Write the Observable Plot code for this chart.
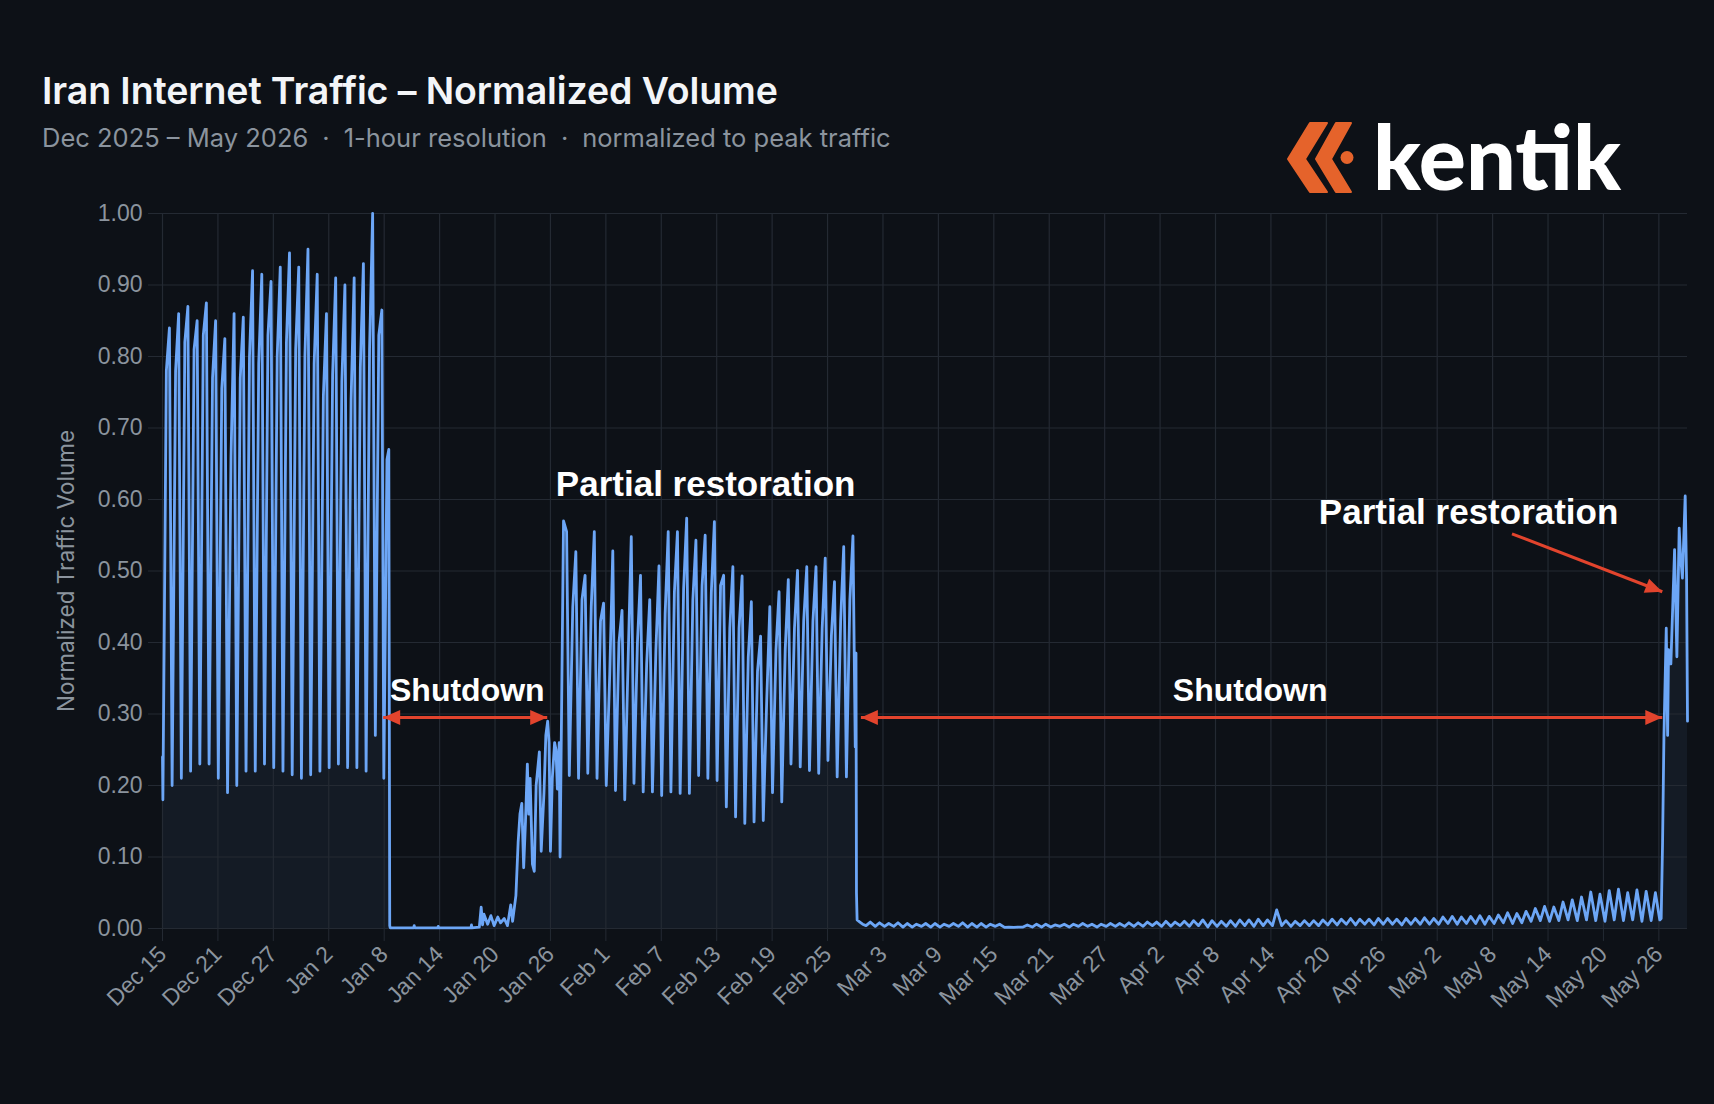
<!DOCTYPE html>
<html>
<head>
<meta charset="utf-8">
<script src="https://cdn.jsdelivr.net/npm/d3@7"></script>
<script src="https://cdn.jsdelivr.net/npm/@observablehq/plot@0.6"></script>
<style>
  html, body { margin: 0; padding: 0; background: #0d1117; }
  #page { position: relative; width: 1714px; height: 1104px; overflow: hidden; background: #0d1117; }
  #title { position: absolute; left: 42px; top: 68px; font-family: Inter, "Noto Sans", sans-serif; font-size: 37.5px; font-weight: 600; color: #f3f5f8; letter-spacing: -0.1px; white-space: nowrap; }
  #subtitle { position: absolute; left: 42px; top: 122px; font-family: Inter, "Noto Sans", sans-serif; font-size: 25.5px; color: #8b949e; white-space: nowrap; }
  #subtitle .sep { margin: 0 14px; }
  #logo { position: absolute; left: 1280px; top: 78px; overflow: visible; }
  #chart { position: absolute; left: 0; top: 160px; }
</style>
</head>
<body>
<div id="page">
  <div id="title">Iran Internet Traffic – Normalized Volume</div>
  <div id="subtitle">Dec 2025 – May 2026<span class="sep">·</span>1-hour resolution<span class="sep">·</span>normalized to peak traffic</div>
  <svg id="logo" width="420" height="150" viewBox="0 0 420 150">
    <g fill="#e5632b">
      <polygon points="8,81 30,45 47,45 25,81 47,114 30,114" stroke="#e5632b" stroke-width="2" stroke-linejoin="round"/>
      <polygon points="36,81 56,45 71,45 51,81 71,114 56,114" stroke="#e5632b" stroke-width="2" stroke-linejoin="round"/>
      <circle cx="67" cy="79.5" r="6.5"/>
    </g>
    <text x="93" y="112" font-family="Lato, 'Open Sans', sans-serif" font-weight="900" font-size="90" fill="#ffffff" textLength="248" lengthAdjust="spacingAndGlyphs">kentik</text>
  </svg>
  <div id="chart"></div>
</div>
<script>
// Day 0 is 2025-12-15 00:00 UTC; hourly samples are summarised below by
// their daily low, midday shoulder and evening peak.
const startDate = "2025-12-15T00:00Z";

// Dec 15 – Jan 7: normal traffic, one value per day
const preTrough = [0.18, 0.20, 0.21, 0.22, 0.23, 0.23, 0.21, 0.19, 0.20, 0.22, 0.22, 0.23,
                   0.225, 0.22, 0.215, 0.21, 0.215, 0.22, 0.225, 0.23, 0.225, 0.225, 0.22, 0.27];
const preMid    = [0.78, 0.78, 0.82, 0.81, 0.83, 0.77, 0.755, 0.66, 0.77, 0.80, 0.79, 0.83,
                   0.80, 0.82, 0.81, 0.80, 0.79, 0.745, 0.775, 0.765, 0.74, 0.785, 0.81, 0.83];
const prePeak   = [0.84, 0.86, 0.87, 0.85, 0.875, 0.85, 0.825, 0.86, 0.855, 0.92, 0.915, 0.905,
                   0.925, 0.945, 0.925, 0.95, 0.915, 0.86, 0.91, 0.90, 0.91, 0.93, 1.00, 0.865];

// Jan 8 cutoff and the January shutdown / first recovery: [day, value]
const janShutdown = [
  [23.96, 0.21], [24.3, 0.656], [24.5, 0.67], [24.6, 0.004], [24.65, 0.001],
  [27.2, 0.001], [27.25, 0.004], [27.3, 0.001], [29.8, 0.001], [29.85, 0.003], [29.9, 0.001],
  [33.4, 0.001], [33.45, 0.005], [33.5, 0.001], [34.3, 0.002], [34.5, 0.03], [34.65, 0.005],
  [34.8, 0.02], [35.2, 0.006], [35.55, 0.018], [35.9, 0.004], [36.3, 0.016], [36.6, 0.008],
  [37.0, 0.014], [37.35, 0.004], [37.7, 0.033], [37.9, 0.01], [38.26, 0.046], [38.5, 0.12],
  [38.7, 0.16], [38.9, 0.175], [39.1, 0.085], [39.3, 0.15], [39.5, 0.23], [39.65, 0.16],
  [39.8, 0.21], [40.05, 0.09], [40.25, 0.08], [40.45, 0.2], [40.8, 0.247], [41.0, 0.108],
  [41.3, 0.19], [41.5, 0.27], [41.7, 0.29], [41.85, 0.26], [42.0, 0.108], [42.2, 0.21],
  [42.45, 0.26], [42.6, 0.25], [42.75, 0.195], [42.95, 0.26]
];

// Jan 27 – Feb 27: partial restoration, one value per day
const postTrough = [0.10, 0.214, 0.21, 0.217, 0.21, 0.20, 0.193, 0.18, 0.203, 0.191, 0.191, 0.186,
                    0.191, 0.189, 0.189, 0.214, 0.21, 0.207, 0.17, 0.156, 0.147, 0.149, 0.151, 0.19,
                    0.177, 0.23, 0.226, 0.221, 0.217, 0.235, 0.212, 0.212];
const postMid    = [0.57, 0.45, 0.46, 0.45, 0.43, 0.355, 0.40, 0.38, 0.40, 0.37, 0.39, 0.44,
                    0.47, 0.475, 0.46, 0.48, 0.47, 0.48, 0.42, 0.42, 0.38, 0.36, 0.32, 0.39,
                    0.39, 0.42, 0.43, 0.43, 0.42, 0.41, 0.43, 0.46];
const postPeak   = [0.555, 0.527, 0.494, 0.555, 0.455, 0.528, 0.445, 0.548, 0.494, 0.46, 0.507, 0.555,
                    0.555, 0.574, 0.543, 0.55, 0.569, 0.494, 0.506, 0.493, 0.457, 0.409, 0.45, 0.471,
                    0.488, 0.501, 0.506, 0.506, 0.518, 0.485, 0.534, 0.549];

// Feb 28 cutoff: [day, value]
const febCutoff = [[75.0, 0.254], [75.08, 0.385], [75.13, 0.05], [75.2, 0.012], [75.5, 0.009], [75.8, 0.006]];

// Mar 1 – May 25: second shutdown, daily low and high
const lowTrough = [0.004, 0.003, 0.003, 0.003, 0.002, 0.002, 0.003, 0.002, 0.002, 0.003, 0.003, 0.002, 0.002, 0.002,
                   0.003, 0.0015, 0.0015,
                   0.002, 0.002, 0.002, 0.002, 0.003, 0.002, 0.003, 0.003, 0.002, 0.003, 0.003, 0.003,
                   0.003, 0.003, 0.004, 0.003, 0.003, 0.004, 0.003, 0.004,
                   0.002, 0.003, 0.003, 0.003, 0.004, 0.003, 0.004,
                   0.004,
                   0.004, 0.003, 0.004, 0.004, 0.004,
                   0.005, 0.005, 0.006, 0.005, 0.006, 0.005, 0.006, 0.006, 0.005, 0.006, 0.006, 0.006,
                   0.006, 0.007, 0.006, 0.007, 0.007, 0.006, 0.007,
                   0.008, 0.007, 0.008,
                   0.010, 0.011, 0.010,
                   0.011, 0.012, 0.011,
                   0.012, 0.011, 0.010, 0.012, 0.011, 0.012, 0.010, 0.011];
const lowPeak   = [0.009, 0.008, 0.007, 0.008, 0.007, 0.006, 0.007, 0.007, 0.006, 0.007, 0.008, 0.007, 0.007, 0.006,
                   0.006, 0.002, 0.002,
                   0.005, 0.006, 0.006, 0.005, 0.006, 0.006, 0.007, 0.006, 0.006, 0.007, 0.007, 0.008,
                   0.008, 0.009, 0.009, 0.010, 0.009, 0.010, 0.011, 0.012,
                   0.011, 0.010, 0.011, 0.012, 0.012, 0.013, 0.012,
                   0.026,
                   0.011, 0.010, 0.011, 0.011, 0.012,
                   0.013, 0.013, 0.014, 0.013, 0.013, 0.014, 0.014, 0.013, 0.014, 0.014, 0.015, 0.014,
                   0.016, 0.017, 0.016, 0.017, 0.018, 0.017, 0.019,
                   0.022, 0.021, 0.024,
                   0.028, 0.031, 0.030,
                   0.037, 0.040, 0.044,
                   0.051, 0.048, 0.053, 0.055, 0.050, 0.054, 0.052, 0.050];

// May 26 onward: second partial restoration, [day, value]
const mayRestoration = [
  [162.1, 0.012], [162.25, 0.014], [162.4, 0.12], [162.55, 0.27], [162.8, 0.42], [162.95, 0.27],
  [163.05, 0.39], [163.3, 0.37], [163.5, 0.45], [163.7, 0.53], [163.95, 0.38], [164.2, 0.56],
  [164.35, 0.52], [164.55, 0.49], [164.85, 0.605], [165.0, 0.49], [165.1, 0.29]
];

// Axis ticks
const yTicks = [0, 0.1, 0.2, 0.3, 0.4, 0.5, 0.6, 0.7, 0.8, 0.9, 1.0];
const xTickDays = ["2025-12-15", "2025-12-21", "2025-12-27", "2026-01-02", "2026-01-08", "2026-01-14",
                   "2026-01-20", "2026-01-26", "2026-02-01", "2026-02-07", "2026-02-13", "2026-02-19",
                   "2026-02-25", "2026-03-03", "2026-03-09", "2026-03-15", "2026-03-21", "2026-03-27",
                   "2026-04-02", "2026-04-08", "2026-04-14", "2026-04-20", "2026-04-26", "2026-05-02",
                   "2026-05-08", "2026-05-14", "2026-05-20", "2026-05-26"];

// Annotations, in data coordinates (day, value)
const shutdownLabels = [{day: 33.0, v: 0.333, text: "Shutdown"}, {day: 117.75, v: 0.333, text: "Shutdown"}];
const restorationLabels = [{day: 58.8, v: 0.621, text: "Partial restoration"}, {day: 141.4, v: 0.582, text: "Partial restoration"}];
const spanArrows = [{from: 23.89, to: 41.65, v: 0.295}, {from: 75.61, to: 162.37, v: 0.295}];
const pointerArrow = {day1: 146.1, v1: 0.552, day2: 162.37, v2: 0.471};

// ---- build the series -------------------------------------------------
const day0 = new Date(startDate).getTime();
const when = (day) => new Date(day0 + day * 864e5);
const series = [];
const add = (day, v) => series.push({t: when(day), v});

add(0, 0.24);
preTrough.forEach((_, i) => {
  add(i + 1 / 24, preTrough[i]);
  add(i + 10 / 24, preMid[i]);
  add(i + 18 / 24, prePeak[i]);
});
janShutdown.forEach(([d, v]) => add(d, v));
postTrough.forEach((_, i) => {
  const d = 43 + i;
  add(d + 1 / 24, postTrough[i]);
  add(d + 10 / 24, postMid[i]);
  add(d + 18 / 24, postPeak[i]);
});
febCutoff.forEach(([d, v]) => add(d, v));
lowTrough.forEach((_, i) => {
  const d = 76 + i;
  add(d + 4 / 24, lowTrough[i]);
  add(d + 15 / 24, lowPeak[i]);
});
mayRestoration.forEach(([d, v]) => add(d, v));

const xTicks = xTickDays.map((s) => new Date(s + "T00:00Z"));

// ---- styling ----------------------------------------------------------
const gridColor = "#242a33";
const axisText = "#8b949e";
const lineColor = "#6ca6f6";
const areaColor = "#141b25";
const red = "#e2442d";
const annotFont = "'Liberation Sans', Arial, Helvetica, sans-serif";

// filled arrowhead with its tip at the origin, pointing right
const arrowHead = {
  draw(context) {
    context.moveTo(0, 0);
    context.lineTo(-17, -7.5);
    context.lineTo(-17, 7.5);
    context.closePath();
  }
};

const heads = spanArrows.flatMap((a) => [
  {t: when(a.from), v: a.v, rot: 180},
  {t: when(a.to), v: a.v, rot: 0}
]);

const chart = Plot.plot({
  width: 1714,
  height: 880,
  marginTop: 53,
  marginLeft: 162,
  marginRight: 27,
  marginBottom: 112,
  style: {background: "transparent", color: axisText, fontFamily: "'Liberation Sans', Arial, sans-serif", fontSize: "23px", overflow: "visible"},
  x: {type: "utc", domain: [when(0), when(165.1)]},
  y: {domain: [0, 1]},
  marks: [
    Plot.areaY(series, {x: "t", y: "v", fill: areaColor}),
    Plot.gridY(yTicks, {stroke: gridColor, strokeOpacity: 1, strokeWidth: 1.2}),
    Plot.gridX(xTicks, {stroke: gridColor, strokeOpacity: 1, strokeWidth: 1.2}),
    Plot.axisY({ticks: yTicks, tickFormat: d3.format(".2f"), tickSize: 14, tickPadding: 6,
                stroke: gridColor, fill: axisText, fontSize: 23, label: null}),
    Plot.axisX({ticks: xTicks, tickFormat: d3.utcFormat("%b %-d"), tickRotate: -45, tickSize: 13, tickPadding: 9,
                stroke: gridColor, fill: axisText, fontSize: 23, label: null}),
    Plot.text(["Normalized Traffic Volume"], {frameAnchor: "left", textAnchor: "middle", rotate: -90, dx: -96,
                fill: axisText, fontSize: 22.5, fontFamily: "Inter, 'Noto Sans', sans-serif"}),
    Plot.lineY(series, {x: "t", y: "v", stroke: lineColor, strokeWidth: 2.8, strokeLinejoin: "round"}),

    // span arrows
    Plot.link(spanArrows, {x1: (d) => when(d.from), x2: (d) => when(d.to), y1: "v", y2: "v", stroke: red, strokeWidth: 3}),
    Plot.link([pointerArrow], {x1: (d) => when(d.day1), y1: "v1", x2: (d) => when(d.day2), y2: "v2", stroke: red, strokeWidth: 3}),
    Plot.dot(heads, {x: "t", y: "v", symbol: arrowHead, rotate: (d) => d.rot, fill: red, stroke: null, r: 6}),
    Plot.dot([pointerArrow], {x: (d) => when(d.day2), y: "v2", symbol: arrowHead, rotate: 21, fill: red, stroke: null, r: 6}),

    // labels
    Plot.text(shutdownLabels, {x: (d) => when(d.day), y: "v", text: "text", fill: "#ffffff",
              fontSize: 32, fontWeight: "bold", fontFamily: annotFont}),
    Plot.text(restorationLabels, {x: (d) => when(d.day), y: "v", text: "text", fill: "#ffffff",
              fontSize: 35, fontWeight: "bold", fontFamily: annotFont})
  ]
});

document.getElementById("chart").appendChild(chart);
</script>
</body>
</html>
